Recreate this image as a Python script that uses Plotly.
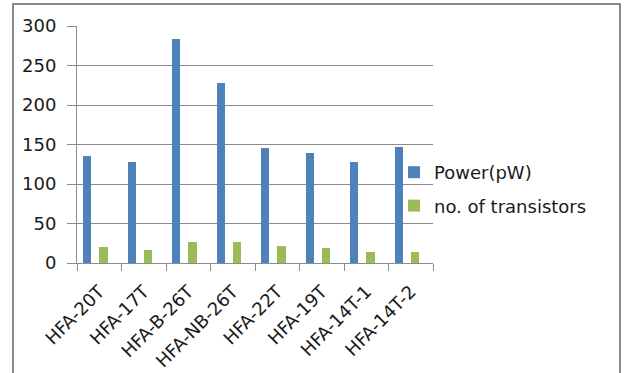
import plotly.graph_objects as go

# Adder designs and their measured figures
designs = ["HFA-20T", "HFA-17T", "HFA-B-26T", "HFA-NB-26T",
           "HFA-22T", "HFA-19T", "HFA-14T-1", "HFA-14T-2"]
power_pw = [135, 128, 283, 228, 146, 139, 128, 147]
transistors = [20, 17, 26, 26, 22, 19, 14, 14]

y_ticks = [0, 50, 100, 150, 200, 250, 300]

W, H = 628, 373
L, R, T, B = 77, 433, 26, 263  # plot area edges in px

FONT = "DejaVu Sans"
GRID = "#8c8c8c"

fig = go.Figure()
fig.add_trace(go.Bar(
    x=designs, y=power_pw, name="Power(pW)",
    marker=dict(color="#4F81BD", line=dict(width=0)),
    width=0.19, offset=-0.365, legendgroup="a",
))
fig.add_trace(go.Bar(
    x=designs, y=transistors, name="no. of transistors",
    marker=dict(color="#9BBB59", line=dict(width=0)),
    width=0.19, offset=0.0, legendgroup="b",
))

pw = R - L
ph = B - T

def px_x(p):
    return (p - L) / pw

def px_y(p):
    return (B - p) / ph

# outer chart frame
fig.add_shape(type="rect", xref="paper", yref="paper",
              x0=px_x(13), x1=px_x(620), y0=px_y(390), y1=px_y(4),
              line=dict(color="#8a8a8a", width=2), fillcolor="rgba(0,0,0,0)")

fig.update_layout(
    width=W, height=H,
    margin=dict(l=L, r=W - R, t=T, b=H - B, autoexpand=False),
    paper_bgcolor="white", plot_bgcolor="white",
    font=dict(family=FONT, size=18, color="#1a1a1a"),
    bargap=0, barmode="overlay",
    showlegend=True,
    legend=dict(x=px_x(394), y=px_y(154), xanchor="left", yanchor="top",
                bgcolor="rgba(0,0,0,0)", font=dict(size=18),
                tracegroupgap=7, traceorder="grouped"),
    xaxis=dict(
        type="category", tickangle=-45, tickson="boundaries",
        ticks="outside", ticklen=7, tickcolor=GRID,
        showline=True, linecolor=GRID, linewidth=1, automargin=False,
        showgrid=False, tickfont=dict(size=18), ticklabelstandoff=10,
    ),
    yaxis=dict(
        range=[0, 300], tickvals=y_ticks, ticks="outside", ticklen=9,
        tickcolor=GRID, showline=True, linecolor=GRID, linewidth=1,
        showgrid=True, gridcolor=GRID, gridwidth=1, zeroline=False,
        automargin=False, tickfont=dict(size=18), ticklabelstandoff=7,
    ),
)

fig.write_html("out.html")
